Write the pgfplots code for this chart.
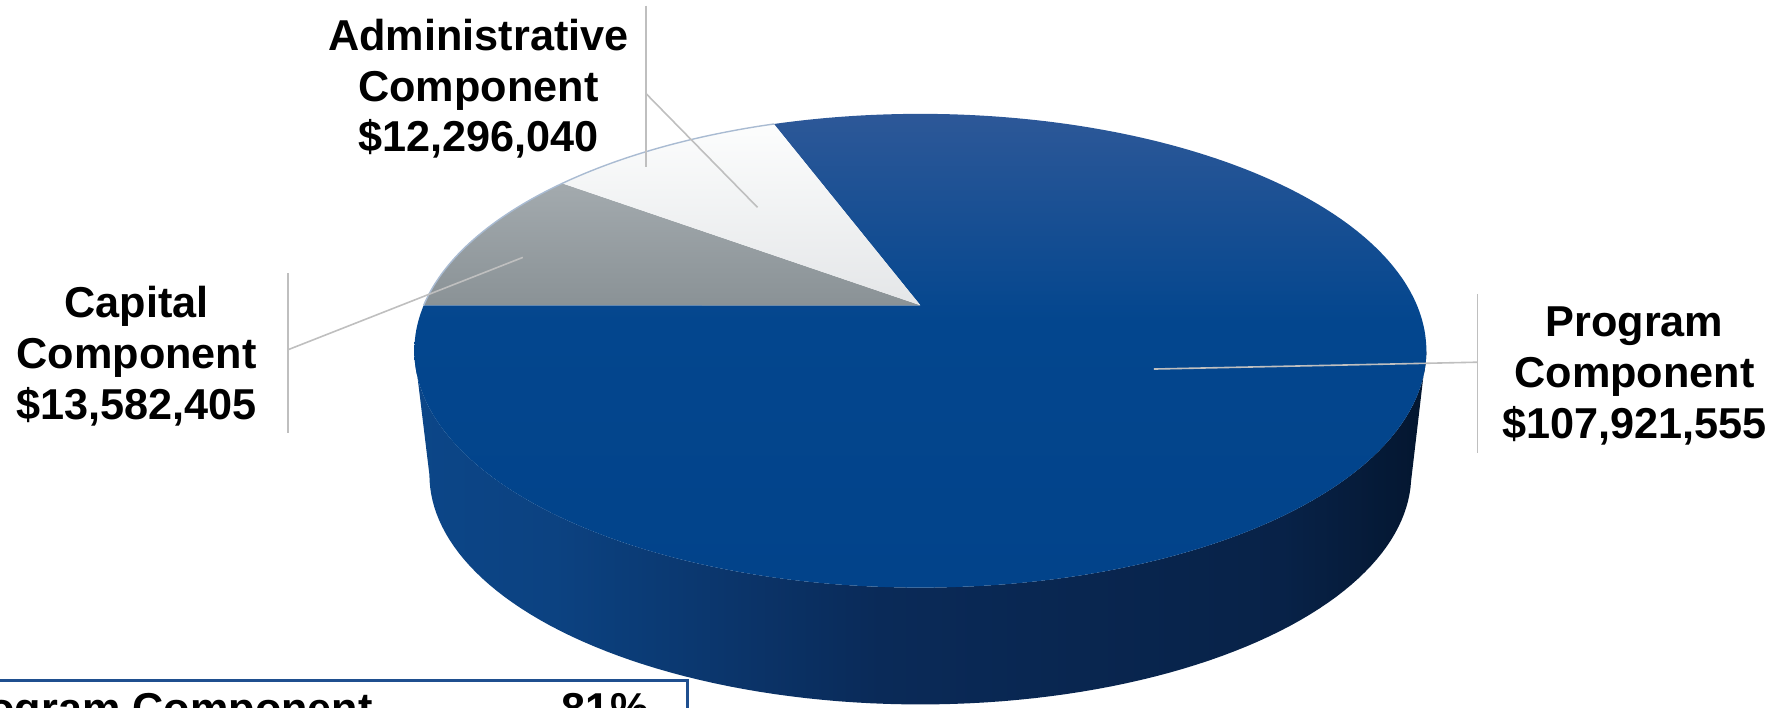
\documentclass[border=0pt]{standalone}
\usepackage{pgfplots}
\pgfplotsset{compat=1.18}
\usepackage{fontspec}
\setmainfont{Liberation Sans}
\definecolor{progTop}{HTML}{2D5898}
\definecolor{progMid}{HTML}{03468E}
\definecolor{progBot}{HTML}{02438A}
\definecolor{capTop}{HTML}{A3AAAE}
\definecolor{capBot}{HTML}{8A9296}
\definecolor{admTop}{HTML}{FCFDFD}
\definecolor{admBot}{HTML}{E4E6E8}
\definecolor{sideL}{HTML}{0C4688}
\definecolor{sideM}{HTML}{0A2A58}
\definecolor{sideR}{HTML}{04162F}
\definecolor{leader}{HTML}{BFBFBF}
\definecolor{boxblue}{HTML}{1F4F8F}
\definecolor{rimline}{HTML}{A9BBD2}
\pgfdeclareverticalshading{progshade}{100bp}{color(0bp)=(progBot); color(25bp)=(progBot); color(53bp)=(progMid); color(75bp)=(progTop); color(100bp)=(progTop)}
\pgfdeclarehorizontalshading{sideshade}{100bp}{color(0bp)=(sideL); color(25bp)=(sideL); color(32bp)=(sideL!85!sideM); color(48bp)=(sideM); color(68bp)=(sideM!60!sideR); color(75bp)=(sideR); color(100bp)=(sideR)}
% values in millions of dollars
\def\vProgram{107.921555}
\def\vCapital{13.582405}
\def\vAdmin{12.296040}
\begin{document}
\begin{tikzpicture}[lbl/.style={align=center, font=\fontsize{10.8}{12.7}\selectfont\bfseries, text=black}]
\useasboundingbox (0,0) rectangle (15.68cm,6.21cm);
\pgfmathsetmacro\total{\vProgram+\vCapital+\vAdmin}
\pgfmathsetmacro\aCap{180-360*\vCapital/\total}
\pgfmathsetmacro\aAdm{\aCap-360*\vAdmin/\total}
\begin{axis}[at={(0,0)}, anchor=south west, scale only axis,
  width=15.68cm, height=6.21cm,
  xmin=0, xmax=1568, ymin=0, ymax=621, y dir=reverse,
  hide axis, clip=false,
  declare function={
    px(\t)=808+436*cos(\t)/(1+0.192*sin(\t));
    py(\t)=268-200.3*sin(\t)/(1+0.192*sin(\t));
    bx(\t)=808+423*cos(\t)/(1+0.192*sin(\t));
    by(\t)=378-194.3*sin(\t)/(1+0.192*sin(\t));
  }
]
% side of the pie
\addplot[draw=none, shading=sideshade,
  domain=0:2, samples=201]
  ({ifthenelse(x<=1, px(191.07+157.86*x), bx(348.93-157.86*(x-1)))},
   {ifthenelse(x<=1, py(191.07+157.86*x), by(348.93-157.86*(x-1)))}) -- cycle;
% Program slice
\addplot[draw=none, shading=progshade,
  domain=-180:\aAdm, samples=240]
  ({px(x)},{py(x)}) -- (axis cs:808,268) -- cycle;
% Capital slice
\addplot[draw=none, top color=capTop, bottom color=capBot,
  domain=\aCap:180, samples=60]
  ({px(x)},{py(x)}) -- (axis cs:808,268) -- cycle;
% Administrative slice
\addplot[draw=none, top color=admTop, bottom color=admBot,
  domain=\aAdm:\aCap, samples=60]
  ({px(x)},{py(x)}) -- (axis cs:808,268) -- cycle;
% rim highlight
\addplot[draw=rimline, line width=0.35pt, domain=\aAdm:180, samples=80]
  ({px(x)},{py(x)});
% leader lines
\draw[leader, line width=0.4pt] (axis cs:567,5) -- (axis cs:567,147);
\draw[leader, line width=0.4pt] (axis cs:567,82) -- (axis cs:665,182);
\draw[leader, line width=0.4pt] (axis cs:253,240) -- (axis cs:253,380);
\draw[leader, line width=0.4pt] (axis cs:253,307) -- (axis cs:459,226);
\draw[leader, line width=0.4pt] (axis cs:1297,258) -- (axis cs:1297,398);
\draw[leader, line width=0.4pt] (axis cs:1297,318) -- (axis cs:1013,324);
% labels
\node[lbl] at (axis cs:420,78) {Administrative\\Component\\\$12,296,040};
\node[lbl] at (axis cs:120,313) {Capital\\Component\\\$13,582,405};
\node[lbl] at (axis cs:1435,330) {Program\\Component\\\$107,921,555};
% summary box (cut off at the bottom edge, as in the original)
\draw[boxblue, line width=0.75pt] (axis cs:-20,597) -- (axis cs:604,597) -- (axis cs:604,720);
\node[anchor=base east, inner sep=0pt, font=\fontsize{10.8}{12.7}\selectfont\bfseries] at (axis cs:328,635) {Program Component};
\node[anchor=base east, inner sep=0pt, font=\fontsize{10.8}{12.7}\selectfont\bfseries] at (axis cs:570,635) {81\%};
\end{axis}
\end{tikzpicture}
\end{document}
